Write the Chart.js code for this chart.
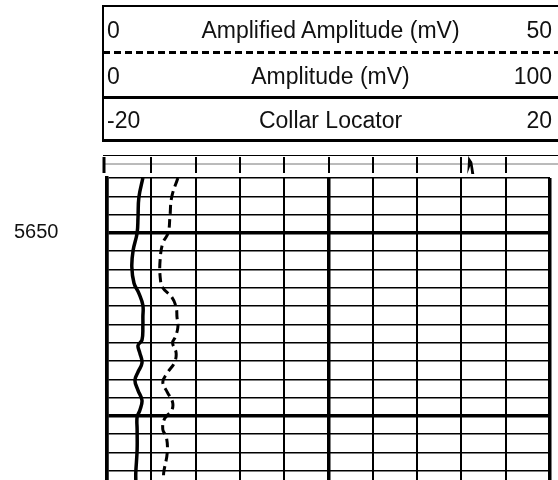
<!DOCTYPE html>
<html>
<head>
<meta charset="utf-8">
<script src="https://cdn.jsdelivr.net/npm/chart.js@4.4.0/dist/chart.umd.min.js"></script>
<style>
html, body { margin: 0; padding: 0; background: #fff; }
#wrap { position: relative; width: 558px; height: 480px; overflow: hidden;
        font-family: "Liberation Sans", Arial, sans-serif; color: #111; }
#logChart { position: absolute; left: 0; top: 0; }
.hline { position: absolute; left: 103px; right: 0; background: #000; }
.dash { position: absolute; left: 103px; right: 0; height: 3px;
        background: repeating-linear-gradient(90deg, #000 0 7px, transparent 7px 11px); }
.vline { position: absolute; left: 102px; width: 2px; background: #000; }
.row { position: absolute; left: 103px; right: 0; }
.row span { position: absolute; top: 50%; transform: translateY(-50%); font-size: 23px; line-height: 1; white-space: nowrap; }
.row .lo { left: 4px; }
.row .hi { right: 6px; }
.row .mid { left: 50%; transform: translate(-50%, -50%); }
</style>
</head>
<body>
<div id="wrap">
    <canvas id="logChart" width="558" height="480"></canvas>

    <!-- cabeçalho das curvas -->
    <div class="hline" style="top:5px;height:2px"></div>
    <div class="row" style="top:7px;height:45px">
        <span class="lo" id="lo1"></span><span class="mid" id="t1"></span><span class="hi" id="hi1"></span>
    </div>
    <div class="dash" style="top:51px"></div>
    <div class="row" style="top:54px;height:43px">
        <span class="lo" id="lo2"></span><span class="mid" id="t2"></span><span class="hi" id="hi2"></span>
    </div>
    <div class="hline" style="top:96px;height:3px"></div>
    <div class="row" style="top:99px;height:41px">
        <span class="lo" id="lo3"></span><span class="mid" id="t3"></span><span class="hi" id="hi3"></span>
    </div>
    <div class="hline" style="top:139px;height:3px"></div>
    <div class="vline" style="top:5px;height:137px"></div>
    <div class="hline" style="top:155px;height:1px"></div>
</div>

<script>
// escalas do cabeçalho
const trackTitles = ["Amplified Amplitude (mV)", "Amplitude (mV)", "Collar Locator"];
const trackMins = [0, 0, -20];
const trackMaxs = [50, 100, 20];

// profundidade (ft)
const depthTop = 5644;
const depthBottom = 5677;
const depthStep = 2;
const depthLabels = [5650];
const thickDepths = [5650, 5670];

// curva Amplitude (0-100 mV), linha cheia
const ampDepth = [5644.0, 5646.1, 5648.3, 5650.0, 5651.9, 5653.7, 5655.5, 5656.6, 5657.9, 5659.2,
    5660.1, 5661.7, 5662.3, 5663.1, 5664.2, 5665.2, 5666.1, 5667.2, 5668.3, 5669.4,
    5670.1, 5671.5, 5673.7, 5676.2, 5677.0];
const ampValues = [8.1, 7.2, 7.0, 6.8, 5.9, 5.6, 6.1, 7.2, 8.1, 8.1,
    8.1, 7.9, 7.0, 7.4, 7.9, 7.0, 6.3, 7.0, 7.9, 7.4,
    6.8, 6.8, 6.8, 6.5, 6.5];

// curva Amplified Amplitude (0-50 mV), tracejada
const amplDepth = [5644.0, 5646.1, 5648.3, 5650.0, 5651.1, 5652.9, 5654.8, 5656.0, 5657.0, 5658.1,
    5659.2, 5660.3, 5661.4, 5662.0, 5663.1, 5664.2, 5665.3, 5666.3, 5667.4, 5668.5,
    5669.4, 5670.3, 5671.5, 5672.3, 5674.0, 5676.2, 5677.0];
const amplValues = [8.0, 7.3, 7.1, 6.9, 6.3, 6.0, 6.0, 6.3, 7.3, 7.8,
    7.9, 8.0, 7.7, 7.4, 7.8, 7.6, 6.8, 6.3, 6.8, 7.4,
    7.3, 6.5, 6.3, 6.7, 6.8, 6.4, 6.4];

// régua superior (marcas na escala de amplitude)
const stripTicks = [0, 10, 20, 30, 40, 50, 60, 70, 80, 90];
const collarMarks = [82];

const FONT = '"Liberation Sans", Arial, sans-serif';

[1, 2, 3].forEach(i => {
    document.getElementById('lo' + i).textContent = trackMins[i - 1];
    document.getElementById('t' + i).textContent = trackTitles[i - 1];
    document.getElementById('hi' + i).textContent = trackMaxs[i - 1];
});

const pares = (ys, xs) => ys.map((d, i) => ({ x: xs[i], y: d }));

const reguaPlugin = {
    id: 'regua',
    afterDraw(chart) {
        const { ctx, chartArea, scales } = chart;
        const base = chartArea.top - 14;
        ctx.save();
        ctx.strokeStyle = '#777';
        ctx.lineWidth = 1;
        ctx.beginPath();
        ctx.moveTo(103, base);
        ctx.lineTo(chart.width, base);
        ctx.stroke();

        ctx.strokeStyle = '#000';
        stripTicks.forEach(v => {
            const px = Math.round(scales.x.getPixelForValue(v));
            ctx.lineWidth = v === 0 ? 3 : 2;
            ctx.beginPath();
            ctx.moveTo(v === 0 ? 104 : px, base - 7);
            ctx.lineTo(v === 0 ? 104 : px, base + 9);
            ctx.stroke();
        });

        collarMarks.forEach(v => {
            const px = scales.x.getPixelForValue(v);
            ctx.fillStyle = '#000';
            ctx.beginPath();
            ctx.moveTo(px - 3, base + 10);
            ctx.lineTo(px - 2, base - 8);
            ctx.lineTo(px + 2, base - 2);
            ctx.lineTo(px + 4, base + 10);
            ctx.lineTo(px + 1, base + 10);
            ctx.lineTo(px, base + 2);
            ctx.closePath();
            ctx.fill();
        });
        ctx.restore();
    }
};

new Chart(document.getElementById('logChart'), {
    type: 'scatter',
    data: {
        datasets: [{
            label: 'Amplitude (mV)',
            data: pares(ampDepth, ampValues),
            xAxisID: 'x',
            showLine: true,
            borderColor: '#000',
            borderWidth: 3.5,
            pointRadius: 0,
            tension: 0.4
        }, {
            label: 'Amplified Amplitude (mV)',
            data: pares(amplDepth, amplValues),
            xAxisID: 'x2',
            showLine: true,
            borderColor: '#000',
            borderWidth: 3,
            borderDash: [9, 5],
            pointRadius: 0,
            tension: 0.4
        }]
    },
    options: {
        responsive: false,
        animation: false,
        devicePixelRatio: 1,
        layout: { padding: { top: 178, right: 8, bottom: 0, left: 14 } },
        plugins: { legend: { display: false }, tooltip: { enabled: false } },
        scales: {
            x: {
                type: 'linear',
                position: 'bottom',
                min: trackMins[1],
                max: trackMaxs[1],
                ticks: { stepSize: 10, display: false },
                grid: {
                    color: '#000',
                    lineWidth: ctx => ctx.tick.value % 50 === 0 ? 3.5 : 2,
                    drawTicks: false
                },
                border: { display: false },
                afterFit: s => { s.height = 0; s.paddingLeft = 0; s.paddingRight = 0; }
            },
            x2: {
                type: 'linear',
                min: trackMins[0],
                max: trackMaxs[0],
                display: false
            },
            y: {
                type: 'linear',
                reverse: true,
                min: depthTop,
                max: depthBottom,
                afterBuildTicks: s => {
                    const t = [];
                    for (let d = depthTop; d < depthBottom; d += depthStep) t.push({ value: d });
                    s.ticks = t;
                },
                ticks: {
                    autoSkip: false,
                    padding: 0,
                    crossAlign: 'far',
                    color: '#111',
                    font: { family: FONT, size: 20 },
                    callback: v => depthLabels.includes(v) ? String(v) : ''
                },
                grid: {
                    color: '#000',
                    lineWidth: ctx => thickDepths.includes(ctx.tick.value) ? 3.5 : 1.5,
                    drawTicks: false
                },
                border: { display: true, color: '#000', width: 3.5 },
                afterFit: s => { s.width = 93; s.paddingTop = 0; s.paddingBottom = 0; }
            }
        }
    },
    plugins: [reguaPlugin]
});
</script>
</body>
</html>
